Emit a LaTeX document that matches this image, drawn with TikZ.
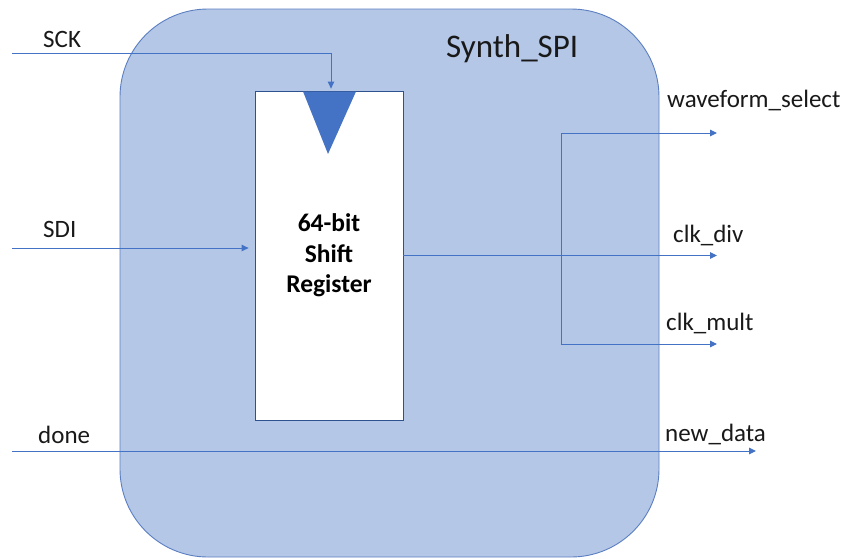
\documentclass[tikz,border=0pt]{standalone}
\usepackage{fontspec}
\setmainfont{Carlito}
\usetikzlibrary{arrows.meta}
\definecolor{modfill}{HTML}{B4C7E7}
\definecolor{modline}{HTML}{5B7FC0}
\definecolor{sigblue}{HTML}{4472C4}
\definecolor{regline}{HTML}{2F528F}
\tikzset{
  sig/.style={draw=sigblue, line width=1pt},
  tip/.style={-{Triangle[length=7pt,width=6.5pt]}},
  lbl/.style={anchor=base west, inner sep=0pt, text=black!90,
              font=\fontsize{25}{30}\selectfont},
}
\begin{document}
\begin{tikzpicture}[x=1pt, y=-1pt]
  \useasboundingbox (0,0) rectangle (849,558);
  % module outline
  \draw[fill=modfill, draw=modline, line width=0.9pt, rounded corners=88pt]
    (120,9) rectangle (659,557);
  \node[lbl, font=\fontsize{33}{40}\selectfont] (title) at (446,57) {Synth\_SPI};

  % shift register
  \node[draw=regline, fill=white, line width=0.8pt, minimum width=148pt,
        minimum height=329pt, inner sep=0pt, align=center,
        font=\bfseries\fontsize{25.5}{30.5}\selectfont] (reg) at (329,255.5)
        {64-bit\\Shift\\Register};
  \fill[sigblue] (303,91.5) -- (356,91.5) -- (328,154) -- cycle;

  % input ports
  \coordinate (sckin) at (12,53);
  \coordinate (sdiin) at (12,248);
  \coordinate (donein) at (12,451);
  \node[lbl] (sck) at (43,47) {SCK};
  \node[lbl] (sdi) at (43,237) {SDI};
  \node[lbl] (done) at (38,443) {done};

  % output ports
  \coordinate (wsout) at (717,133);
  \coordinate (divout) at (717,255.5);
  \coordinate (multout) at (717,344);
  \coordinate (ndout) at (756,451);
  \coordinate (br1) at (561,133);
  \coordinate (br2) at (561,344);
  \node[lbl] (ws) at (667,107) {waveform\_select};
  \node[lbl] (div) at (673,242) {clk\_div};
  \node[lbl] (mult) at (666,330) {clk\_mult};
  \node[lbl] (nd) at (665,441) {new\_data};

  % connectors
  \draw[sig, tip, shorten >=2pt] (sckin) -| ([xshift=2pt]reg.north);
  \draw[sig, tip, shorten >=6pt] (sdiin) -- (sdiin -| reg.west);
  \draw[sig, tip] (reg.east |- divout) -- (divout);
  \draw[sig, {Triangle[length=7pt,width=6.5pt]}-{Triangle[length=7pt,width=6.5pt]}]
    (wsout) -- (br1) -- (br2) -- (multout);
  \draw[sig, tip] (donein) -- (ndout);
\end{tikzpicture}
\end{document}
